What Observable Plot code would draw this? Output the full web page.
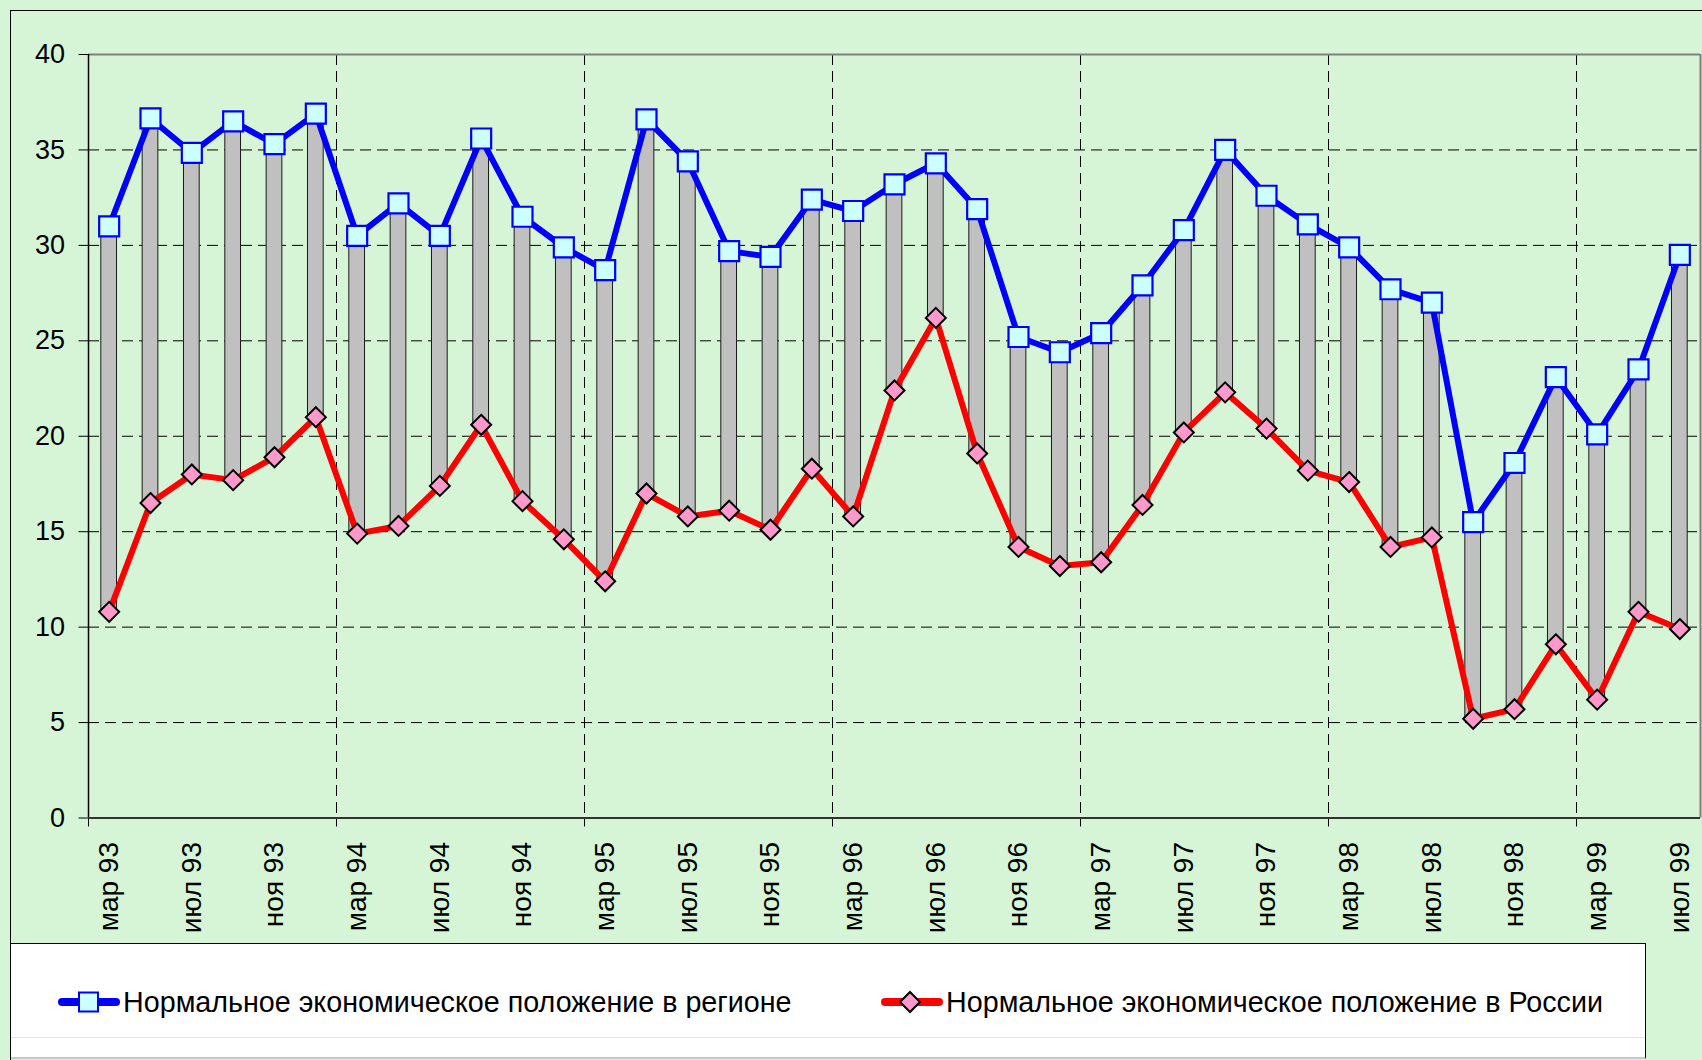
<!DOCTYPE html>
<html>
<head>
<meta charset="utf-8">
<script src="https://cdn.jsdelivr.net/npm/d3@7"></script>
<script src="https://cdn.jsdelivr.net/npm/@observablehq/plot@0.6"></script>
<style>
html,body{margin:0;padding:0;background:#d6f5d6;}
#page{position:relative;width:1702px;height:1060px;overflow:hidden;background:#d6f5d6;font-family:"Liberation Sans",Arial,sans-serif;}
#frame{position:absolute;left:10px;top:10px;width:1800px;height:1200px;border-left:1px solid #000;border-top:1px solid #000;}
#chart{position:absolute;left:0;top:0;}
#legend{position:absolute;left:11px;top:943px;width:1634px;height:113px;background:#fff;border-top:1px solid #000;border-right:1px solid #000;border-bottom:2px solid #c8c8c8;}
#legend .sep{position:absolute;left:0;right:0;top:93px;height:1px;background:#dcefdc;}
.item{position:absolute;top:38px;height:40px;display:flex;align-items:center;font-size:28.7px;color:#000;white-space:nowrap;}
.item svg{display:block;margin-right:3px;}
</style>
</head>
<body>
<div id="page">
  <div id="frame"></div>
  <div id="chart"></div>
  <div id="legend">
    <div class="item" style="left:47px;">
      <svg width="62" height="24" viewBox="0 0 62 24">
        <line x1="4" y1="12" x2="58" y2="12" stroke="#0000ff" stroke-width="8" stroke-linecap="round"/>
        <rect x="21" y="2.5" width="19" height="19" fill="#ccffff" stroke="#0000ff" stroke-width="2"/>
      </svg>
      <span>Нормальное экономическое положение в регионе</span>
    </div>
    <div class="item" style="left:870px;">
      <svg width="62" height="24" viewBox="0 0 62 24">
        <line x1="4" y1="12" x2="58" y2="12" stroke="#ff0000" stroke-width="8" stroke-linecap="round"/>
        <path d="M29,2 L39,12 L29,22 L19,12 Z" fill="#ff99cc" stroke="#000" stroke-width="2"/>
      </svg>
      <span>Нормальное экономическое положение в России</span>
    </div>
    <div class="sep"></div>
  </div>
</div>
<script>
// Bimonthly survey dates (категории)
const months = ["мар 93","май 93","июл 93","сен 93","ноя 93",
  "янв 94","мар 94","май 94","июл 94","сен 94","ноя 94",
  "янв 95","мар 95","май 95","июл 95","сен 95","ноя 95",
  "янв 96","мар 96","май 96","июл 96","сен 96","ноя 96",
  "янв 97","мар 97","май 97","июл 97","сен 97","ноя 97",
  "янв 98","мар 98","май 98","июл 98","сен 98","ноя 98",
  "янв 99","мар 99","май 99","июл 99"];
// Нормальное экономическое положение в регионе
const region = [31.0, 36.65, 34.85, 36.5, 35.3, 36.9, 30.5, 32.2, 30.5, 35.6,
  31.5, 29.9, 28.7, 36.6, 34.4, 29.7, 29.4, 32.4, 31.8, 33.2,
  34.3, 31.9, 25.2, 24.4, 25.4, 27.9, 30.8, 35.0, 32.6, 31.1,
  29.9, 27.7, 27.0, 15.5, 18.6, 23.1, 20.1, 23.5, 29.5];
// Нормальное экономическое положение в России
const russia = [10.8, 16.5, 18.0, 17.7, 18.9, 21.0, 14.9, 15.3, 17.4, 20.6,
  16.6, 14.6, 12.4, 17.0, 15.8, 16.1, 15.1, 18.3, 15.8, 22.4,
  26.2, 19.1, 14.2, 13.2, 13.4, 16.4, 20.2, 22.3, 20.4, 18.2,
  17.6, 14.2, 14.7, 5.2, 5.7, 9.1, 6.2, 10.8, 9.9];
const yTicks = [0, 5, 10, 15, 20, 25, 30, 35, 40];
const xLabelEvery = 2;   // a label on every other category
const xGridEvery = 6;    // gridline/tick between every 6 categories

const rows = months.map((m, i) => ({i, m, region: region[i], russia: russia[i]}));
const labelIdx = months.map((m, i) => i).filter(i => i % xLabelEvery === 0);
const gridX = months.map((m, i) => i).filter(i => i > 0 && i % xGridEvery === 0).map(i => i - 0.5);
const n = months.length;
const dash = "11,6";
const halfBar = 0.19;

const chart = Plot.plot({
  width: 1702, height: 943,
  marginLeft: 88, marginRight: 2, marginTop: 54, marginBottom: 125.5,
  style: {background: "transparent", fontFamily: '"Liberation Sans", Arial, sans-serif', fontSize: "27px", color: "#000"},
  x: {type: "linear", domain: [-0.5, n - 0.5], axis: null, label: null},
  y: {domain: [0, 40], axis: null, label: null},
  marks: [
    Plot.ruleY(yTicks.filter(v => v > 0 && v < 40), {stroke: "#000", strokeWidth: 1, strokeDasharray: dash}),
    Plot.ruleX(gridX, {stroke: "#000", strokeWidth: 1, strokeDasharray: dash}),
    Plot.ruleY([40], {stroke: "#808080", strokeWidth: 2}),
    Plot.ruleX([n - 0.5], {stroke: "#808080", strokeWidth: 2}),
    Plot.axisY({ticks: yTicks, tickSize: 9.5, tickPadding: 14, fontSize: 27, label: null, tickFormat: d => String(d)}),
    Plot.axisX({ticks: [-0.5, ...gridX], tickSize: 9, tickFormat: () => "", label: null}),
    Plot.axisX({ticks: labelIdx, tickSize: 0, tickPadding: 24, tickRotate: -90, fontSize: 28, label: null, tickFormat: i => months[i]}),
    Plot.ruleX([-0.5], {stroke: "#000", strokeWidth: 1.5}),
    Plot.ruleY([0], {stroke: "#333", strokeWidth: 2}),
    Plot.rectY(rows, {x1: d => d.i - halfBar, x2: d => d.i + halfBar, y1: "russia", y2: "region", fill: "#c0c0c0", stroke: "#1a1a1a", strokeWidth: 1}),
    Plot.line(rows, {x: "i", y: "region", stroke: "#0000ff", strokeWidth: 6}),
    Plot.line(rows, {x: "i", y: "russia", stroke: "#ff0000", strokeWidth: 6}),
    Plot.dot(rows, {x: "i", y: "region", symbol: "square", r: 11.28, fill: "#ccffff", stroke: "#0000ff", strokeWidth: 2.2}),
    Plot.dot(rows, {x: "i", y: "russia", symbol: "diamond2", r: 9, fill: "#ff99cc", stroke: "#000", strokeWidth: 2})
  ]
});
document.getElementById("chart").appendChild(chart);
</script>
</body>
</html>
